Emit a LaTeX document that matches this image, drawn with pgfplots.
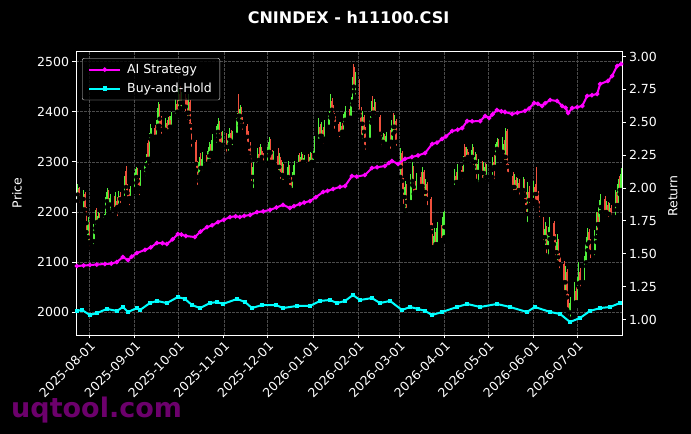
\documentclass[border=0pt]{standalone}
\usepackage{fontspec}
\setmainfont{DejaVu Sans}
\usepackage{pgfplots}
\usepackage{pgfplotstable}
\pgfplotsset{compat=1.18}

\definecolor{upc}{RGB}{80,240,60}
\definecolor{dnc}{RGB}{240,80,60}
\definecolor{gridc}{RGB}{75,75,75}
\definecolor{wm}{RGB}{128,0,128}
\definecolor{aic}{RGB}{255,0,255}
\definecolor{bhc}{RGB}{0,255,255}

% x = days from 2025-08-01, open, close, high, low
\pgfplotstableread{
x o c h l
-8 2235 2248 2255 2222
-7 2246 2228 2250 2215
-4 2226 2238 2244 2205
-3 2236 2205 2240 2196
-2 2204 2178 2210 2160
-1 2150 2176 2190 2135
0 2174 2140 2180 2128
3 2142 2168 2176 2132
4 2168 2196 2205 2160
5 2195 2180 2208 2172
6 2180 2192 2200 2174
7 2192 2184 2198 2176
10 2184 2190 2196 2178
11 2190 2222 2230 2186
12 2222 2240 2248 2210
13 2238 2215 2244 2206
14 2215 2228 2236 2200
17 2226 2205 2232 2192
18 2206 2222 2240 2198
19 2222 2210 2230 2188
20 2210 2232 2242 2204
21 2232 2226 2240 2214
24 2228 2262 2272 2222
25 2282 2250 2292 2240
26 2250 2238 2256 2222
27 2238 2228 2246 2210
28 2228 2246 2252 2220
31 2246 2270 2278 2240
32 2270 2285 2290 2258
33 2285 2262 2288 2250
34 2262 2248 2268 2230
35 2248 2276 2284 2240
38 2276 2294 2300 2268
39 2294 2310 2316 2284
40 2338 2306 2344 2290
41 2306 2352 2358 2300
42 2352 2368 2376 2344
45 2368 2350 2374 2342
46 2350 2372 2384 2346
47 2372 2408 2420 2366
48 2408 2386 2416 2372
49 2386 2364 2392 2352
52 2364 2378 2388 2354
53 2378 2360 2384 2350
54 2360 2384 2390 2356
55 2384 2370 2392 2362
56 2370 2392 2400 2366
59 2392 2416 2426 2384
60 2416 2400 2424 2390
61 2400 2436 2448 2396
62 2436 2418 2452 2408
63 2418 2428 2440 2404
66 2428 2410 2436 2396
67 2410 2398 2424 2380
68 2398 2420 2436 2388
69 2420 2372 2424 2360
70 2372 2340 2378 2326
73 2340 2296 2344 2284
74 2296 2270 2302 2250
75 2270 2300 2310 2262
76 2300 2288 2318 2276
77 2288 2306 2320 2280
80 2306 2296 2314 2288
81 2296 2312 2322 2290
82 2312 2330 2340 2302
83 2330 2318 2336 2296
84 2318 2344 2356 2310
87 2344 2360 2372 2334
88 2360 2376 2388 2352
89 2376 2350 2382 2336
90 2350 2334 2360 2322
91 2334 2352 2362 2326
94 2352 2330 2358 2312
95 2330 2344 2356 2318
96 2344 2358 2368 2336
97 2358 2340 2364 2330
98 2340 2354 2362 2326
101 2354 2388 2398 2348
102 2426 2392 2436 2384
103 2392 2406 2414 2372
104 2406 2380 2410 2370
105 2380 2372 2390 2360
108 2372 2350 2376 2336
109 2350 2330 2362 2318
110 2330 2310 2340 2302
111 2310 2270 2314 2258
112 2270 2290 2300 2244
115 2290 2316 2328 2284
116 2316 2304 2330 2296
117 2304 2322 2336 2298
118 2322 2310 2330 2300
119 2310 2298 2318 2290
122 2298 2320 2330 2292
123 2320 2340 2350 2312
124 2340 2318 2346 2300
125 2318 2300 2324 2290
126 2300 2312 2322 2294
129 2312 2290 2328 2280
130 2290 2304 2318 2276
131 2304 2274 2310 2262
132 2274 2288 2300 2256
133 2288 2270 2296 2260
136 2270 2290 2302 2262
137 2290 2262 2294 2250
138 2262 2244 2270 2236
139 2244 2270 2280 2240
140 2270 2294 2302 2264
143 2294 2306 2314 2288
144 2306 2296 2318 2290
145 2296 2310 2320 2290
146 2310 2300 2316 2292
147 2300 2308 2314 2292
150 2308 2296 2316 2288
151 2296 2310 2320 2290
152 2310 2300 2318 2292
153 2300 2314 2322 2294
154 2314 2342 2352 2310
157 2342 2370 2388 2336
158 2370 2352 2376 2342
159 2352 2364 2380 2346
160 2364 2346 2370 2332
161 2346 2370 2384 2340
164 2370 2394 2402 2362
165 2394 2422 2436 2388
166 2422 2404 2428 2396
167 2404 2392 2414 2386
168 2392 2376 2398 2362
171 2376 2356 2380 2340
172 2356 2372 2380 2346
173 2372 2360 2378 2350
174 2360 2384 2396 2356
175 2384 2400 2412 2376
178 2400 2388 2406 2378
179 2388 2420 2430 2384
180 2420 2460 2470 2414
181 2490 2450 2496 2440
182 2430 2462 2480 2424
185 2462 2400 2466 2392
186 2400 2376 2410 2350
187 2376 2390 2402 2342
188 2390 2360 2394 2330
189 2360 2344 2370 2320
192 2344 2384 2392 2338
193 2384 2410 2422 2378
194 2410 2398 2432 2392
195 2398 2416 2426 2386
196 2416 2390 2420 2380
199 2390 2356 2394 2348
200 2356 2340 2360 2326
201 2340 2350 2358 2332
202 2350 2336 2356 2328
203 2336 2352 2360 2330
206 2352 2340 2364 2322
207 2340 2372 2384 2334
208 2394 2370 2398 2356
209 2370 2382 2394 2360
210 2382 2340 2386 2328
213 2290 2318 2328 2270
214 2318 2262 2322 2242
215 2262 2230 2268 2212
216 2230 2250 2262 2196
217 2250 2220 2256 2204
220 2220 2262 2276 2214
221 2262 2286 2300 2254
222 2286 2250 2292 2236
223 2250 2240 2262 2232
224 2240 2270 2278 2234
227 2270 2252 2280 2240
228 2252 2280 2290 2246
229 2280 2240 2284 2228
230 2240 2256 2266 2228
231 2256 2226 2260 2210
234 2226 2170 2230 2160
235 2170 2130 2178 2122
236 2130 2152 2168 2124
237 2152 2136 2160 2128
238 2136 2168 2180 2130
241 2168 2144 2174 2134
242 2144 2190 2200 2140
243 2170 2196 2202 2150
250 2250 2272 2286 2242
251 2272 2260 2280 2248
252 2260 2284 2296 2254
255 2284 2276 2292 2262
256 2276 2300 2312 2270
257 2330 2306 2336 2298
258 2306 2320 2330 2296
259 2320 2310 2326 2300
262 2310 2324 2336 2302
263 2324 2300 2330 2290
264 2300 2310 2320 2280
265 2310 2280 2316 2262
266 2280 2296 2306 2256
269 2296 2278 2302 2264
270 2278 2290 2300 2256
271 2290 2270 2298 2260
272 2270 2284 2296 2262
276 2284 2300 2310 2270
277 2300 2290 2314 2262
278 2290 2326 2336 2286
279 2326 2340 2348 2316
280 2340 2320 2346 2310
283 2320 2336 2350 2312
284 2336 2310 2344 2300
285 2310 2362 2368 2300
286 2362 2290 2366 2276
287 2290 2272 2296 2266
290 2272 2250 2280 2236
291 2250 2264 2276 2240
292 2264 2240 2270 2228
293 2240 2258 2268 2234
294 2258 2244 2266 2230
297 2244 2260 2270 2236
298 2260 2232 2266 2222
299 2232 2210 2240 2196
300 2196 2240 2260 2176
301 2240 2224 2252 2214
304 2224 2250 2262 2216
305 2250 2236 2256 2220
306 2280 2236 2290 2220
307 2236 2214 2242 2206
308 2214 2196 2222 2186
311 2186 2150 2190 2140
312 2150 2166 2180 2130
313 2166 2130 2172 2114
314 2130 2156 2170 2110
315 2156 2178 2190 2146
318 2178 2148 2182 2136
319 2148 2120 2156 2110
320 2120 2140 2156 2100
321 2140 2110 2146 2096
322 2110 2096 2118 2084
325 2096 2060 2102 2040
326 2060 2080 2092 2040
327 2080 2030 2086 2006
328 2030 2000 2036 1990
329 2000 2018 2030 1986
332 2018 2042 2060 2010
333 2042 2020 2050 2012
334 2020 2058 2070 2016
335 2058 2080 2100 2050
336 2080 2060 2088 2046
339 2060 2100 2112 2054
340 2100 2136 2150 2092
341 2136 2160 2168 2124
342 2160 2140 2166 2120
343 2140 2120 2146 2104
346 2120 2150 2164 2110
347 2150 2190 2200 2140
348 2190 2176 2200 2160
349 2176 2210 2224 2172
350 2210 2226 2236 2200
353 2226 2200 2232 2192
354 2200 2214 2222 2188
355 2214 2196 2220 2184
356 2196 2208 2218 2186
357 2208 2190 2214 2182
360 2190 2232 2244 2186
361 2232 2214 2240 2204
362 2214 2256 2266 2210
363 2256 2244 2272 2236
364 2244 2276 2288 2240
}\candles

\pgfplotstableread{
x r
-8.6 1.407
-4 1.410
0.3 1.414
5 1.418
10.6 1.422
15 1.425
18.8 1.437
22.9 1.475
26.4 1.452
29 1.478
32.5 1.506
38 1.529
42 1.548
46.2 1.582
50 1.580
53 1.574
57 1.610
60.6 1.650
63 1.646
66 1.635
72.2 1.627
76 1.668
80.5 1.703
84 1.716
88 1.741
92 1.758
96.2 1.779
100 1.785
103 1.779
106 1.788
110 1.795
114.7 1.817
119 1.822
123.6 1.833
128 1.852
132.5 1.871
137.3 1.848
140 1.862
144 1.878
147 1.889
151 1.901
155 1.930
160 1.970
163 1.978
166.8 1.992
171.5 2.008
175 2.015
179.7 2.091
183 2.086
188.6 2.099
193.4 2.152
197 2.158
202.3 2.167
205 2.190
207.1 2.205
211.3 2.183
216 2.221
220.8 2.236
225 2.248
229.8 2.266
234.6 2.335
238 2.345
241.4 2.373
244 2.392
248.3 2.433
252 2.443
255.2 2.456
258.6 2.509
262 2.507
267.5 2.509
270.9 2.548
273.6 2.532
276 2.560
279 2.593
282 2.583
284.5 2.578
289.3 2.563
293 2.572
298.2 2.586
301 2.605
304.4 2.646
307 2.640
309.9 2.624
312 2.645
315.4 2.669
320.2 2.662
323.6 2.624
326 2.610
327.7 2.570
330.5 2.608
334 2.615
337.4 2.624
340.7 2.700
344 2.706
347.6 2.715
349.6 2.791
355 2.814
357.8 2.852
361.2 2.928
364 2.943
}\aistrat

\pgfplotstableread{
x r
-8.6 1.065
-5.1 1.072
0.3 1.034
5.1 1.049
12 1.080
18.8 1.065
22.9 1.095
26.4 1.057
32.5 1.087
34.6 1.072
41.4 1.125
46.2 1.141
53 1.125
60.6 1.171
65.4 1.156
70.2 1.110
75.7 1.087
82.5 1.125
87.3 1.133
91.4 1.118
101 1.156
106.5 1.133
111.3 1.087
118.1 1.110
127.7 1.110
132.5 1.087
142.1 1.103
151 1.103
157.8 1.141
164.6 1.148
169.5 1.125
175 1.141
180.4 1.186
185.2 1.148
193.4 1.163
198.9 1.125
205.8 1.141
214 1.072
219.5 1.095
225 1.080
229.8 1.065
234.6 1.034
241.4 1.057
251.7 1.095
258.6 1.118
267.5 1.095
279 1.118
287.9 1.095
299.5 1.057
305 1.095
315.4 1.057
322.2 1.042
329 0.981
335.8 1.011
342.7 1.065
349.6 1.087
356.4 1.095
363.2 1.125
}\buyhold

\pgfplotsset{
  base/.style={
    at={(76bp,99bp)}, anchor=south west,
    width=546bp, height=284bp, scale only axis,
    xmin=-9.2, xmax=364.6,
    axis line style={white, line width=0.8bp},
    tick style={white, line width=0.8bp},
    tick align=outside, major tick length=3.5bp,
    tick label style={white, font=\fontsize{12.5bp}{15bp}\selectfont,
      /pgf/number format/assume math mode=true},
  },
}

\begin{document}
\begin{tikzpicture}
\useasboundingbox (0,0) rectangle (691bp,434bp);
\fill[black] (0,0) rectangle (691bp,434bp);

\begin{axis}[base,
    ymin=1955, ymax=2521,
    ytick={2000,2100,2200,2300,2400,2500},
    yticklabel style={/pgf/number format/1000 sep={}},
    xtick={0,31,61,92,122,153,184,212,243,273,304,334},
    xticklabels={2025-08-01,2025-09-01,2025-10-01,2025-11-01,2025-12-01,2026-01-01,2026-02-01,2026-03-01,2026-04-01,2026-05-01,2026-06-01,2026-07-01},
    xticklabel style={rotate=45, anchor=north east, inner sep=1bp},
    xtick pos=left, ytick pos=left,
    grid=major,
    major grid style={gridc, line width=0.5bp, dash pattern=on 2.5bp off 1.5bp},
]
% wicks
\addplot[only marks, mark=none, forget plot,
  restrict expr to domain={\thisrow{c}-\thisrow{o}}{0:100000},
  error bars/.cd, y dir=plus, y explicit, error mark=none,
  error bar style={upc, solid, line width=0.7bp}]
  table[x=x, y=l, y error expr=\thisrow{h}-\thisrow{l}] {\candles};
\addplot[only marks, mark=none, forget plot,
  restrict expr to domain={\thisrow{c}-\thisrow{o}}{-100000:-0.001},
  error bars/.cd, y dir=plus, y explicit, error mark=none,
  error bar style={dnc, solid, line width=0.7bp}]
  table[x=x, y=l, y error expr=\thisrow{h}-\thisrow{l}] {\candles};
% bodies
\addplot[only marks, mark=none, forget plot,
  restrict expr to domain={\thisrow{c}-\thisrow{o}}{0:100000},
  error bars/.cd, y dir=plus, y explicit, error mark=none,
  error bar style={upc, solid, line width=1.5bp}]
  table[x=x, y=o, y error expr=\thisrow{c}-\thisrow{o}] {\candles};
\addplot[only marks, mark=none, forget plot,
  restrict expr to domain={\thisrow{c}-\thisrow{o}}{-100000:-0.001},
  error bars/.cd, y dir=plus, y explicit, error mark=none,
  error bar style={dnc, solid, line width=1.5bp}]
  table[x=x, y=c, y error expr=\thisrow{o}-\thisrow{c}] {\candles};
\end{axis}

\begin{axis}[base,
    ymin=0.882, ymax=3.042,
    axis x line=none,
    axis y line*=right,
    ytick={1,1.25,1.5,1.75,2,2.25,2.5,2.75,3},
    yticklabel style={/pgf/number format/.cd, fixed, fixed zerofill, precision=2},
    legend cell align=left,
    legend style={at={(0.011,0.975)}, anchor=north west,
      fill=black, fill opacity=0.8, text opacity=1, draw=white!85!black,
      rounded corners=2bp, text=white,
      font=\fontsize{12.5bp}{15bp}\selectfont,
      inner xsep=6bp, inner ysep=4bp, row sep=4bp,
      /tikz/every odd column/.append style={column sep=4bp}},
    legend image code/.code={
      \draw[mark repeat=2, mark phase=2, #1] plot coordinates {(0bp,0bp) (15.5bp,0bp) (31bp,0bp)};
    },
]
\addplot[aic, line width=2bp, mark=*, mark size=1.1bp] table[x=x, y=r] {\aistrat};
\addlegendentry{AI Strategy}
\addplot[bhc, line width=2bp, mark=square*, mark size=1.1bp] table[x=x, y=r] {\buyhold};
\addlegendentry{Buy-and-Hold}
\end{axis}

\node[anchor=base, text=white, font=\fontsize{16bp}{19bp}\selectfont\bfseries] at (348.5bp,410.5bp) {CNINDEX - h11100.CSI};
\node[rotate=90, text=white, font=\fontsize{12.5bp}{15bp}\selectfont] at (17bp,241bp) {Price};
\node[rotate=90, text=white, font=\fontsize{12.5bp}{15bp}\selectfont] at (673bp,238bp) {Return};
\node[anchor=base west, text=wm, opacity=0.85, inner sep=0pt, font=\fontsize{27bp}{31bp}\selectfont\bfseries] at (11bp,17bp) {uqtool.com};
\end{tikzpicture}
\end{document}
